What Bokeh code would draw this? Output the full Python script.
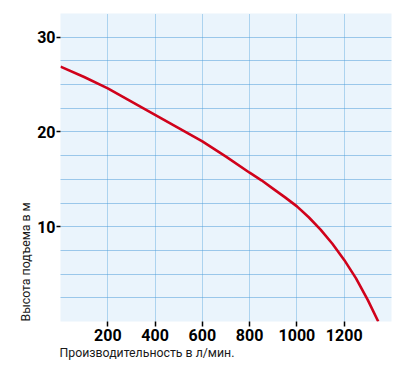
from bokeh.plotting import figure
from bokeh.models import FixedTicker, Range1d, Title
from bokeh.embed import file_html
from bokeh.resources import INLINE

# Data
flow = [0, 100, 200, 300, 400, 500, 600, 700, 800, 850, 900, 950, 1000, 1050, 1100, 1150, 1200, 1250, 1300, 1344]
head = [26.9, 25.8, 24.6, 23.2, 21.8, 20.4, 19.0, 17.4, 15.7, 14.9, 14.0, 13.1, 12.15, 11.0, 9.7, 8.2, 6.5, 4.55, 2.25, 0.0]
x_ticks = [200, 400, 600, 800, 1000, 1200]
y_ticks = [10, 20, 30]
y_grid = [2.5, 5, 7.5, 10, 12.5, 15, 17.5, 20, 22.5, 25, 27.5, 30]
x_label = "Производительность в л/мин."
y_label = "Высота подъема в м"

p = figure(width=408, height=376, output_backend="svg", toolbar_location=None,
           x_range=Range1d(0, 1400), y_range=Range1d(0, 32.5),
           min_border_left=60, min_border_right=17, min_border_top=13, min_border_bottom=55)
p.outline_line_color = None
p.background_fill_color = "#eaf4fc"
p.border_fill_color = "white"

p.xaxis.ticker = FixedTicker(ticks=x_ticks)
p.yaxis.ticker = FixedTicker(ticks=y_ticks)
p.xgrid.ticker = FixedTicker(ticks=x_ticks)
p.ygrid.ticker = FixedTicker(ticks=y_grid)
p.xgrid.grid_line_color = "#6fb2e2"
p.ygrid.grid_line_color = "#4a9bd8"
for g in (p.xgrid, p.ygrid):
    g.grid_line_dash = "1 1"
    g.grid_line_width = 1

for ax in (p.xaxis, p.yaxis):
    ax.axis_line_color = None
    ax.minor_tick_line_color = None
    ax.major_tick_line_color = "black"
    ax.major_tick_line_width = 1.5
    ax.major_tick_in = 0
    ax.major_label_text_font = "Roboto"
    ax.major_label_text_font_style = "bold"
    ax.major_label_text_font_size = "16px"
    ax.major_label_text_color = "black"
p.xaxis.major_tick_out = 5
p.xaxis.major_label_standoff = 2
p.yaxis.major_tick_out = 4
p.yaxis.major_label_standoff = 1

p.line(flow, head, line_color="#d0021b", line_width=2.6, line_join="round")

p.add_layout(Title(text=x_label, align="left", offset=-1, text_font="Roboto", text_font_size="12.3px",
                   text_font_style="normal", text_color="#1a1a1a", standoff=0), "below")
p.add_layout(Title(text=y_label, align="left", text_font="Roboto", text_font_size="12.3px",
                   text_font_style="normal", text_color="#1a1a1a", standoff=4), "left")

open("out.html", "w").write(file_html(p, INLINE))
